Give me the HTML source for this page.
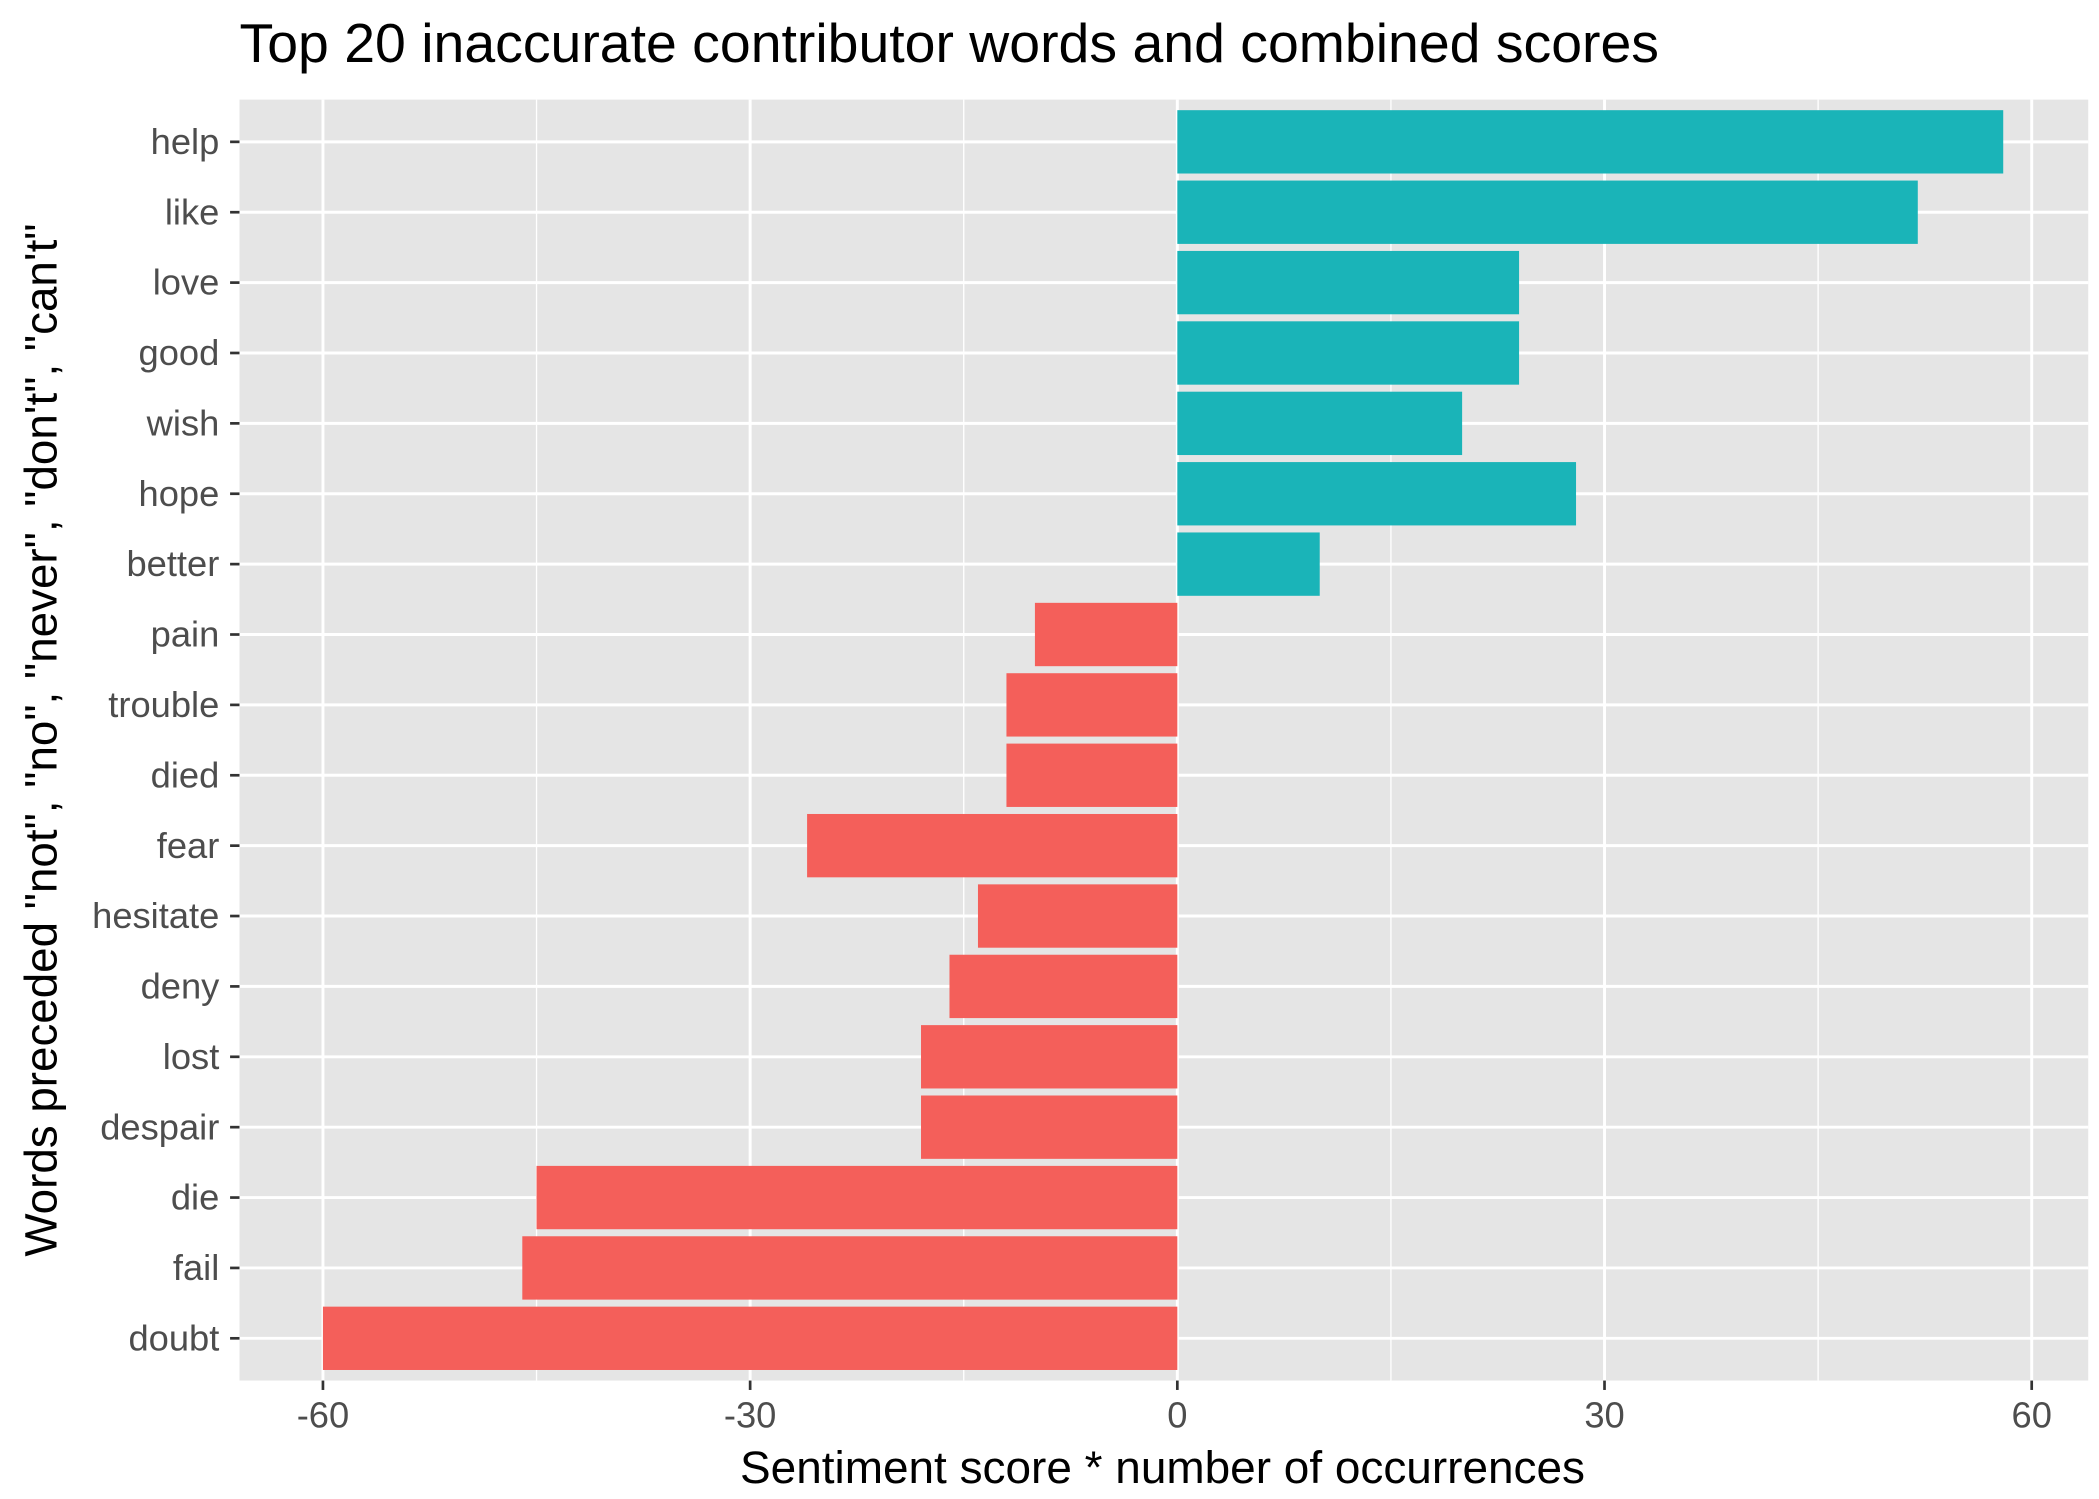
<!DOCTYPE html>
<html><head><meta charset="utf-8"><style>html,body{margin:0;padding:0;background:#fff}svg{display:block}text{font-family:"Liberation Sans",Arial,sans-serif}</style></head>
<body>
<svg id="chart" width="2099" height="1499" viewBox="0 0 1560 1114" xmlns="http://www.w3.org/2000/svg">
<rect x="0" y="0" width="1560" height="1114" fill="#fff"/>
<text x="178" y="46" font-size="40.5" fill="#000" textLength="1055" lengthAdjust="spacingAndGlyphs">Top 20 inaccurate contributor words and combined scores</text>
<rect x="178" y="74" width="1374" height="952" fill="#e5e5e5"/>
<g id="grid"></g><g id="bars"></g><g id="axes"></g>
<text x="864" y="1102" font-size="34" text-anchor="middle" fill="#000" textLength="628" lengthAdjust="spacingAndGlyphs">Sentiment score * number of occurrences</text>
<text transform="translate(42,550) rotate(-90)" font-size="34" text-anchor="middle" fill="#000">Words preceded "not", "no", "never", "don't", "can't"</text>
</svg>
<script>
const words=["help","like","love","good","wish","hope","better","pain","trouble","died","fear","hesitate","deny","lost","despair","die","fail","doubt"];
const scores=[58,52,24,24,20,28,10,-10,-12,-12,-26,-14,-16,-18,-18,-45,-46,-60];
const xTicks=[-60,-30,0,30,60];
const xMinor=[-45,-15,15,45];
const NS="http://www.w3.org/2000/svg";
const L=178,R=1552,T=74,B=1026,xmin=-65.86,xmax=63.97;
const x=v=>L+(v-xmin)/(xmax-xmin)*(R-L);
const step=(B-T)/(words.length+0.2);
const y=i=>T+step*0.6+i*step;
function mk(tag,attrs,parent){const e=document.createElementNS(NS,tag);for(const k in attrs)e.setAttribute(k,attrs[k]);parent.appendChild(e);return e;}
const grid=document.getElementById('grid'),bars=document.getElementById('bars'),axes=document.getElementById('axes');
xMinor.forEach(v=>{const l=mk('line',{x1:x(v),x2:x(v),y1:T,y2:B,stroke:'#fff','stroke-width':1},grid);

});
xTicks.forEach(v=>{const l=mk('line',{x1:x(v),x2:x(v),y1:T,y2:B,stroke:'#fff','stroke-width':2.2},grid);


const t=mk('line',{x1:x(v),x2:x(v),y1:B,y2:B+7,stroke:'#333','stroke-width':2},axes);


const tx=mk('text',{x:x(v),y:B+35,'font-size':27,'text-anchor':'middle',fill:'#4d4d4d'},axes);tx.textContent=v;

});
words.forEach((w,i)=>{const l=mk('line',{x1:L,x2:R,y1:y(i),y2:y(i),stroke:'#fff','stroke-width':2.2},grid);


const v=scores[i],h=step*0.9;
const r=mk('rect',{x:Math.min(x(0),x(v)),y:y(i)-h/2,width:Math.abs(x(v)-x(0)),height:h,fill:v>=0?'#1ab4b8':'#f45f5a'},bars);


const t=mk('line',{x1:L-7,x2:L,y1:y(i),y2:y(i),stroke:'#333','stroke-width':2},axes);


const tx=mk('text',{x:L-15,y:y(i)+9,'font-size':27,'text-anchor':'end',fill:'#4d4d4d'},axes);tx.textContent=w;

});
</script>
</body></html>
